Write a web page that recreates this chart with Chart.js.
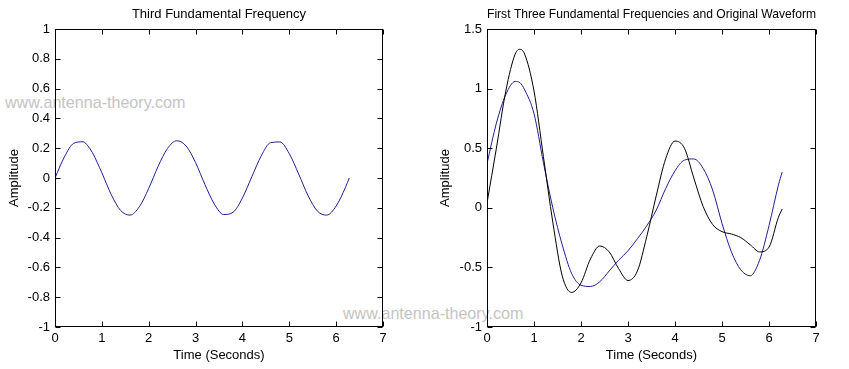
<!DOCTYPE html>
<html>
<head>
<meta charset="utf-8">
<script src="https://cdn.jsdelivr.net/npm/chart.js@4"></script>
<style>
  body { margin: 0; background: #fff; overflow: hidden; }
  .box { position: absolute; top: 0; height: 369px; }
  .mark { position: absolute; font-family: "Liberation Sans", Arial, sans-serif; font-size: 16.1px; color: #c4c4c4; white-space: nowrap; line-height: 1; }
</style>
</head>
<body>
<div class="mark" style="left:5px;top:94px">www.antenna-theory.com</div>
<div class="mark" style="left:343px;top:305px">www.antenna-theory.com</div>
<div class="box" style="left:0;width:420px"><canvas id="third-chart"></canvas></div>
<div class="box" style="left:420px;width:429px"><canvas id="sum-chart"></canvas></div>
<script>
// time axis (seconds), shared by both plots
const timeSec = [0, 0.2, 0.4, 0.6, 0.7, 0.8, 1.0, 1.2, 1.4, 1.6, 1.8, 2.0, 2.2, 2.4, 2.6, 2.8, 3.0,
  3.2, 3.4, 3.6, 3.8, 4.0, 4.2, 4.4, 4.6, 4.8, 5.0, 5.2, 5.4, 5.6, 5.8, 6.0, 6.2, 6.28];

// left plot: third fundamental
const thirdFreq = [0, 0.141, 0.233, 0.243, 0.216, 0.169, 0.035, -0.111, -0.218, -0.249, -0.193, -0.070, 0.078,
  0.198, 0.250, 0.214, 0.103, -0.044, -0.175, -0.245, -0.230, -0.134, 0.008, 0.148, 0.237, 0.242, 0.163,
  0.027, -0.118, -0.222, -0.249, -0.188, -0.062, 0];

// right plot: original waveform (black) and sum of first three (blue)
const original = [0.04, 0.50, 0.98, 1.29, 1.33, 1.29, 0.98, 0.43, -0.12, -0.57, -0.71, -0.63, -0.43,
  -0.32, -0.37, -0.51, -0.61, -0.53, -0.24, 0.10, 0.41, 0.56, 0.50, 0.25, 0.01, -0.14, -0.20,
  -0.22, -0.25, -0.31, -0.37, -0.33, -0.08, -0.01];
const firstThree = [0.37, 0.71, 0.95, 1.06, 1.05, 0.99, 0.79, 0.38, 0.00, -0.31, -0.55, -0.65, -0.66,
  -0.62, -0.53, -0.44, -0.36, -0.26, -0.15, -0.02, 0.16, 0.31, 0.40, 0.41, 0.33, 0.15, -0.13,
  -0.37, -0.52, -0.57, -0.44, -0.15, 0.19, 0.30];

const xTicks = [0, 1, 2, 3, 4, 5, 6, 7];
const font = { family: "'Liberation Sans', Arial, sans-serif", size: 13 };

function pts(ys) {
  return timeSec.map((t, i) => ({ x: t, y: ys[i] }));
}

// box round the axes with inward ticks on all four sides, like matlab
const matlabBox = {
  id: 'matlabBox',
  afterDraw(chart) {
    const { ctx, chartArea: a, scales } = chart;
    const L = Math.round(a.left) + 0.5, R = Math.round(a.right) - 0.5;
    const T = Math.round(a.top) + 0.5, B = Math.round(a.bottom) - 0.5;
    ctx.save();
    ctx.strokeStyle = '#000';
    ctx.lineWidth = 1;
    ctx.strokeRect(L, T, R - L, B - T);
    ctx.beginPath();
    scales.x.ticks.forEach(t => {
      const px = Math.round(scales.x.getPixelForValue(t.value)) + 0.5;
      ctx.moveTo(px, B); ctx.lineTo(px, B - 5);
      ctx.moveTo(px, T); ctx.lineTo(px, T + 5);
    });
    scales.y.ticks.forEach(t => {
      const py = Math.round(scales.y.getPixelForValue(t.value)) + 0.5;
      ctx.moveTo(L, py); ctx.lineTo(L + 5, py);
      ctx.moveTo(R, py); ctx.lineTo(R - 5, py);
    });
    ctx.stroke();
    ctx.restore();
  }
};

function makeOptions(title, yMin, yMax, yStep, yWidth, yTitlePad, padRight) {
  return {
    responsive: true,
    maintainAspectRatio: false,
    animation: false,
    layout: { padding: { left: 0, right: padRight, top: 0, bottom: 0 }, autoPadding: false },
    plugins: {
      legend: { display: false },
      tooltip: { enabled: false },
      title: {
        display: true, text: title, fullSize: false, color: '#000',
        font: { ...font, weight: 'normal' }, padding: { top: 6.2, bottom: 7.2 }
      }
    },
    scales: {
      x: {
        type: 'linear', min: 0, max: 7,
        afterBuildTicks: s => { s.ticks = xTicks.map(v => ({ value: v })); },
        afterFit: s => { s.height = 42; },
        grid: { display: false, drawTicks: false }, border: { display: false },
        ticks: { color: '#000', font, padding: 4, maxRotation: 0 },
        title: { display: true, text: 'Time (Seconds)', color: '#000', font, padding: { top: 0, bottom: 6.2 } }
      },
      y: {
        min: yMin, max: yMax,
        afterFit: s => { s.width = yWidth; },
        grid: { display: false, drawTicks: false }, border: { display: false },
        ticks: { color: '#000', font, padding: 5, stepSize: yStep, callback: v => String(Math.round(v * 10) / 10) },
        title: { display: true, text: 'Amplitude', color: '#000', font, padding: { top: yTitlePad, bottom: 0 } }
      }
    }
  };
}

new Chart(document.getElementById("third-chart"), {
  type: 'line',
  data: {
    datasets: [{
      data: pts(thirdFreq),
      borderColor: "#1f1f8f",
      borderWidth: 1,
      pointRadius: 0,
      cubicInterpolationMode: 'monotone',
      fill: false
    }]
  },
  options: makeOptions('Third Fundamental Frequency', -1, 1, 0.2, 55, 6.7, 37),
  plugins: [matlabBox]
});

new Chart(document.getElementById("sum-chart"), {
  type: 'line',
  data: {
    datasets: [{
      data: pts(original),
      borderColor: "#000000",
      borderWidth: 1,
      pointRadius: 0,
      cubicInterpolationMode: 'monotone',
      fill: false
    }, {
      data: pts(firstThree),
      borderColor: "#1f1f8f",
      borderWidth: 1,
      pointRadius: 0,
      cubicInterpolationMode: 'monotone',
      fill: false
    }]
  },
  options: makeOptions('First Three Fundamental Frequencies and Original Waveform', -1, 1.5, 0.5, 67, 17.2, 33),
  plugins: [matlabBox]
});
</script>
</body>
</html>
